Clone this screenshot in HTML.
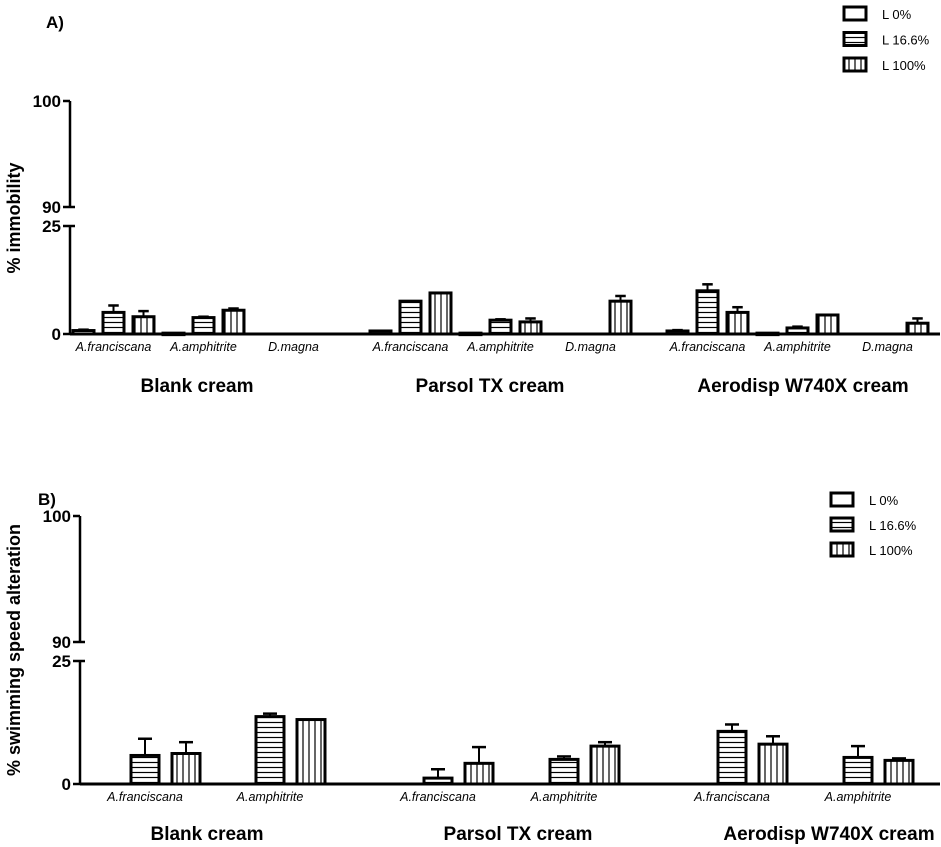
<!DOCTYPE html>
<html><head><meta charset="utf-8"><style>
html,body{margin:0;padding:0;background:#fff;}
svg{display:block;font-family:"Liberation Sans",Arial,sans-serif;}
</style></head><body>
<svg id="chart" width="941" height="847" viewBox="0 0 941 847" xmlns="http://www.w3.org/2000/svg">
<defs>
<pattern id="hpat" width="6" height="5" patternUnits="userSpaceOnUse"><rect width="6" height="5" fill="#fff"/><line x1="0" y1="2.5" x2="6" y2="2.5" stroke="#000" stroke-width="1.2"/></pattern>
<pattern id="vpat" width="6" height="6" patternUnits="userSpaceOnUse"><rect width="6" height="6" fill="#fff"/><line x1="3" y1="0" x2="3" y2="6" stroke="#000" stroke-width="1.2"/></pattern>
</defs>
<g id="gA"></g>
<g id="gB"></g>
</svg>
<script>
// Panel A data (order per cream: A.franciscana, A.amphitrite, D.magna; per species L0%, L16.6%, L100%)
const creamsA = ["Blank cream","Parsol TX cream","Aerodisp W740X cream"];
const speciesA = ["A.franciscana","A.amphitrite","D.magna"];
const valuesA = [
  [0.8,5.0,4.0, 0.2,3.8,5.5, null,null,null],
  [0.7,7.6,9.5, 0.2,3.2,2.8, null,null,7.6],
  [0.7,10.0,5.0, 0.2,1.4,4.4, null,null,2.5]
];
const errA = [
  [0.2,1.6,1.3, 0,0.2,0.4, null,null,null],
  [0,0,0, 0,0.2,0.8, null,null,1.2],
  [0.2,1.5,1.2, 0,0.3,0, null,null,1.1]
];
// Panel B data (per species: L0%, L16.6%, L100%)
const speciesB = ["A.franciscana","A.amphitrite"];
const valuesB = [
  [null,5.8,6.2, null,13.7,13.1],
  [null,1.2,4.2, null,5.0,7.7],
  [null,10.7,8.1, null,5.4,4.8]
];
const errB = [
  [null,3.4,2.3, null,0.6,0],
  [null,1.8,3.3, null,0.6,0.8],
  [null,1.4,1.6, null,2.3,0.4]
];
const legendLabels = ["L 0%","L 16.6%","L 100%"];
const fills = ["#fff","url(#hpat)","url(#vpat)"];
const NS="http://www.w3.org/2000/svg";
function mk(p,tag,at,txt){const e=document.createElementNS(NS,tag);for(const k in at)e.setAttribute(k,at[k]);if(txt!==undefined)e.textContent=txt;p.appendChild(e);return e;}

function panel(g,cfg){
  const {ax,y0,y25,y90,y100,xEnd,creams,species,vals,errs,groupC,slot,bw,creamC,creamY,title,titleX,titleY,tag,tagX,tagY,legX,legY,legStep}=cfg;
  const yS=v=>y0-(y0-y25)*v/25;
  let e=mk(g,"line",{x1:ax,y1:y100,x2:ax,y2:y90,stroke:"#000","stroke-width":2.5});
  
  e=mk(g,"line",{x1:ax,y1:y25,x2:ax,y2:y0,stroke:"#000","stroke-width":2.5});
  
  e=mk(g,"line",{x1:ax,y1:y0,x2:xEnd,y2:y0,stroke:"#000","stroke-width":3});
  
  [[y100,"100"],[y90,"90"],[y25,"25"],[y0,"0"]].forEach(([y,t])=>{
    const l=mk(g,"line",{x1:ax-7,y1:y,x2:(t==="90"||t==="25")?ax+5:ax,y2:y,stroke:"#000","stroke-width":2.5});
    
    const tx=mk(g,"text",{x:ax-9,y:y+6,"text-anchor":"end","font-size":17,"font-weight":"bold"},t);
    
  });
  vals.forEach((arr,ci)=>{
    species.forEach((sp,si)=>{
      const G=groupC[ci][si];
      const lab=mk(g,"text",{x:G,y:y0+17,"text-anchor":"middle","font-size":12.5,"font-style":"italic"},sp);
      
      for(let k=0;k<3;k++){
        const v=arr[si*3+k];if(v===null)continue;
        const cx=G+(k-1)*slot, top=yS(v);
        const er=errs[ci][si*3+k];
        if(er){const ye=yS(v+er);
          const l1=mk(g,"line",{x1:cx,y1:top,x2:cx,y2:ye,stroke:"#000","stroke-width":2});
          
          const l2=mk(g,"line",{x1:cx-bw/4,y1:ye,x2:cx+bw/4,y2:ye,stroke:"#000","stroke-width":2.5});
          }
        const r=mk(g,"rect",{x:cx-bw/2,y:top,width:bw,height:Math.max(y0-top,1.5),fill:fills[k],stroke:"#000","stroke-width":3});
        
      }
    });
    const ct=mk(g,"text",{x:creamC[ci],y:creamY,"text-anchor":"middle","font-size":19,"font-weight":"bold"},creams[ci]);
    
  });
  const tt=mk(g,"text",{x:titleX,y:titleY,"text-anchor":"middle","font-size":18,"font-weight":"bold",transform:`rotate(-90 ${titleX} ${titleY})`},title);
  
  const tg=mk(g,"text",{x:tagX,y:tagY,"font-size":17,"font-weight":"bold"},tag);
  
  legendLabels.forEach((t,i)=>{
    const y=legY+i*legStep;
    const r=mk(g,"rect",{x:legX,y:y,width:22,height:13,fill:fills[i],stroke:"#000","stroke-width":3});
    
    const lt=mk(g,"text",{x:legX+38,y:y+12,"font-size":13},t);
    
  });
}
panel(document.getElementById('gA'),{ax:70,y0:334,y25:226,y90:207,y100:101,xEnd:940,
  creams:creamsA,species:speciesA,vals:valuesA,errs:errA,
  groupC:[[113.5,203.5,293.5],[410.5,500.5,590.5],[707.5,797.5,887.5]],slot:30,bw:21,
  creamC:[197,490,803],creamY:392,title:"% immobility",titleX:20,titleY:218,tag:"A)",tagX:46,tagY:28,legX:844,legY:7,legStep:25.5});
panel(document.getElementById('gB'),{ax:80,y0:784,y25:661,y90:642,y100:516,xEnd:940,
  creams:creamsA,species:speciesB,vals:valuesB,errs:errB,
  groupC:[[145,270],[438,564],[732,858]],slot:41,bw:28,
  creamC:[207,518,829],creamY:840,title:"% swimming speed alteration",titleX:20,titleY:650,tag:"B)",tagX:38,tagY:505,legX:831,legY:493,legStep:25});
</script>
</body></html>
